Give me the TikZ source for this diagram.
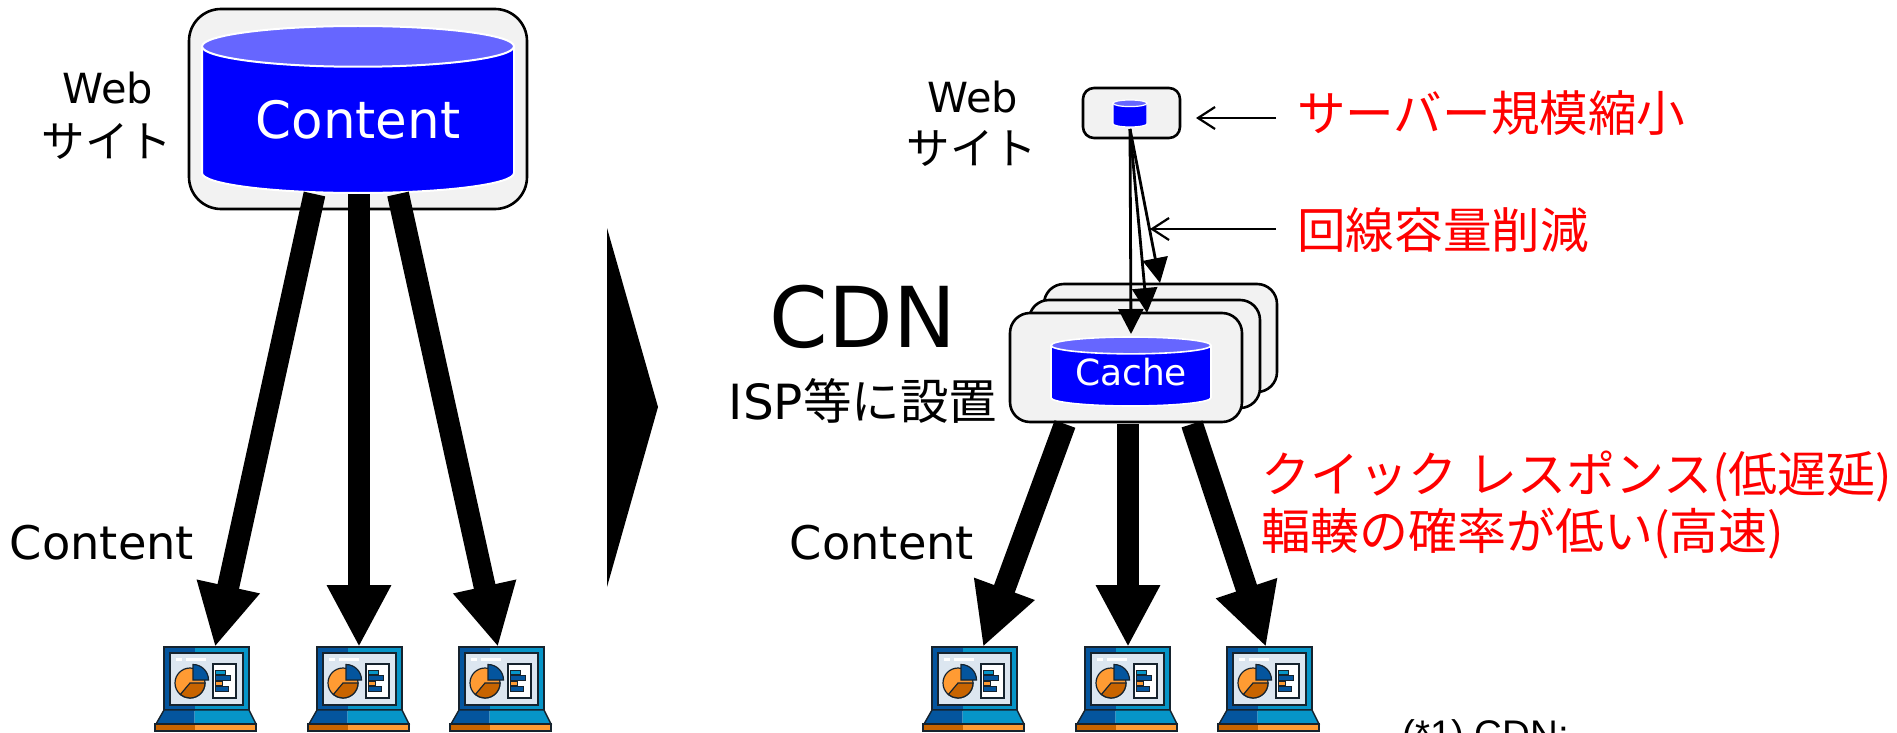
\documentclass[tikz,border=0pt]{standalone}
\usepackage{fontspec}
\setmainfont{DejaVu Sans}
\newfontfamily\jpf{Noto Sans CJK JP}
\newfontfamily\arf{Liberation Sans}
\usetikzlibrary{arrows.meta}
\definecolor{boxgray}{HTML}{F2F2F2}
\definecolor{cyltop}{HTML}{6666FF}
\definecolor{dblue}{HTML}{04559E}
\definecolor{lblue}{HTML}{0695C8}
\definecolor{scrn}{HTML}{DCE6F0}
\definecolor{dor}{HTML}{C86400}
\definecolor{lor}{HTML}{FF9B33}
\definecolor{ink}{HTML}{16232E}
\definecolor{redt}{HTML}{FF0000}
\newcommand{\fs}[1]{\fontsize{#1}{#1}\selectfont}
\tikzset{
  x=1pt,y=-1pt,
  wbox/.style={draw=black,fill=boxgray,rounded corners=#1,line width=2.6pt,inner sep=0pt,outer sep=0pt},
  bigarrow/.style={line width=22pt,-{Triangle[length=62pt,width=60pt]}},
  thinarrow/.style={line width=2.8pt,-{Triangle[length=25pt,width=25pt]}},
  note/.style={line width=2.2pt,-{Straight Barb[length=17pt,width=22pt]}},
  lbl/.style={inner sep=0pt,align=center,text=black},
  redlbl/.style={inner sep=0pt,anchor=west,text=redt},
  lap/.pic={
    \fill[dblue] (9,0) rectangle (39.5,63);
    \fill[lblue] (39.5,0) rectangle (94,63);
    \draw[ink,line width=1.4pt] (9,0) rectangle (94,63);
    \fill[dblue] (9,63) -- (39.5,63) -- (39.5,77) -- (1,77) -- cycle;
    \fill[lblue] (39.5,63) -- (94,63) -- (101,77) -- (39.5,77) -- cycle;
    \draw[ink,line width=1.4pt] (9,63) -- (94,63) -- (101,77) -- (1,77) -- cycle;
    \fill[dor] (0,77) rectangle (39.5,84);
    \fill[lor] (39.5,77) rectangle (101,84);
    \draw[ink,line width=1.4pt] (0,77) rectangle (101,84);
    \draw[ink,fill=scrn,line width=1.6pt] (15,6) rectangle (88,58);
    \fill[white] (21,10.5) rectangle (27,14);
    \fill[white] (31,10.5) rectangle (51,14);
    \draw[ink,fill=lor,line width=1.2pt] (35,36) circle (15);
    \draw[ink,fill=dor,line width=1.2pt] (35,36) -- (50,36) arc[start angle=0,end angle=130,radius=15] -- cycle;
    \draw[ink,fill=dblue,line width=1.2pt] (38,33) -- (38,17.5) arc[start angle=-90,end angle=0,radius=15.5] -- cycle;
    \draw[ink,fill=white,line width=1.2pt] (58,17) rectangle (81,51);
    \draw[ink,fill=lblue,line width=.8pt] (60,23) rectangle (70,27.5);
    \draw[ink,fill=dblue,line width=.8pt] (60,28) rectangle (75,33);
    \draw[ink,fill=lor,line width=.8pt] (60,34) rectangle (67.5,38);
    \draw[ink,fill=dblue,line width=.8pt] (60,39) rectangle (73,44);
  }
}
\newcommand{\cylinder}[5]{%
  \begin{scope}[shift={(#1,#2)},xscale=#3,yscale=#4]
    \draw[white,line width=#5,fill=blue] (0,.122) -- (0,.88) .. controls (0,.947) and (.224,1) .. (.5,1) .. controls (.776,1) and (1,.947) .. (1,.88) -- (1,.122) -- cycle;
    \draw[white,line width=#5,fill=cyltop] (.5,.122) ellipse [x radius=.5,y radius=.122];
  \end{scope}}
\begin{document}
\begin{tikzpicture}
\useasboundingbox (0,0) rectangle (1897,733);
\clip (0,0) rectangle (1897,733);
\fill[white] (0,0) rectangle (1897,733);
% left site
\node[wbox=32pt,minimum width=338pt,minimum height=200pt] (webL) at (358,109) {};
\cylinder{202}{26}{312}{167}{2pt}
\node[lbl,text=white,font=\fs{51.5}] (contentL) at (358,120) {Content};
% left laptops
\pic at (155,647) {lap};
\pic at (308,647) {lap};
\pic at (450,647) {lap};
\coordinate (sa) at (314.5,194); \coordinate (ta) at (215,647);
\coordinate (sb) at (359,194);   \coordinate (tb) at (359,647);
\coordinate (sc) at (398,194);   \coordinate (tc) at (498,647);
\draw[bigarrow] (sa) -- (ta);
\draw[bigarrow] (sb) -- (tb);
\draw[bigarrow] (sc) -- (tc);
\node[lbl,font=\fs{41.5}] (webLa) at (108,88) {Web};
\node[lbl,font=\jpf\fs{43.5}] (webLb) at (107,141) {サイト};
\node[lbl,font=\fs{46.3}] (cLbl) at (102,543) {Content};
% divider
\fill[black] (607,228) -- (658,407) -- (607,587) -- cycle;
% right site
\node[wbox=11pt,minimum width=97pt,minimum height=50pt] (webR) at (1131.5,113) {};
\cylinder{1113}{100}{34}{27}{1.2pt}
% cache stack
\node[wbox=20pt,minimum width=233pt,minimum height=108pt] (st3) at (1160.5,338) {};
\node[wbox=20pt,minimum width=231pt,minimum height=108pt] (st2) at (1144.5,354) {};
\node[wbox=20pt,minimum width=232pt,minimum height=109pt] (st1) at (1126,367.5) {};
\cylinder{1051}{337}{160}{69}{1.6pt}
\node[lbl,text=white,font=\fs{36}] (cacheT) at (1131,372) {Cache};
% thin arrows
\coordinate (ws) at (1130,129);
\coordinate (t1) at (1131,334);
\coordinate (t2) at (1147,313);
\coordinate (t3) at (1160,283);
\draw[thinarrow] (ws) -- (t1);
\draw[thinarrow] (ws) -- (t2);
\draw[thinarrow] (ws) -- (t3);
% notes
\coordinate (n1s) at (1276,118); \coordinate (n1e) at (1196,118);
\coordinate (n2s) at (1276,229); \coordinate (n2e) at (1150,229);
\draw[note] (n1s) -- (n1e);
\draw[note] (n2s) -- (n2e);
% right laptops
\pic at (923,647) {lap};
\pic at (1076,647) {lap};
\pic at (1218,647) {lap};
\coordinate (ra) at (1065,424); \coordinate (rat) at (983,647);
\coordinate (rb) at (1128,424); \coordinate (rbt) at (1128,647);
\coordinate (rc) at (1192,424); \coordinate (rct) at (1266,647);
\draw[bigarrow] (ra) -- (rat);
\draw[bigarrow] (rb) -- (rbt);
\draw[bigarrow] (rc) -- (rct);
% labels
\node[lbl,font=\fs{41.5}] (webRa) at (973,97) {Web};
\node[lbl,font=\jpf\fs{43.5}] (webRb) at (972,148) {サイト};
\node[lbl,font=\fs{84}] (cdn) at (863,317) {CDN};
\node[lbl,font=\fs{48.5}] (isp) at (863,401) {ISP{\jpf 等に設置}};
\node[lbl,font=\fs{46.3}] (cLblR) at (882,543) {Content};
\node[redlbl,font=\jpf\fs{48.6}] (r1) at (1297,113) {サーバー規模縮小};
\node[redlbl,font=\jpf\fs{48.6}] (r2) at (1297,230) {回線容量削減};
\node[redlbl,font=\jpf\fs{49}] (r3) at (1261,476) {クイック レスポンス({低遅延})};
\node[redlbl,font=\jpf\fs{49}] (r4) at (1261,534) {輻輳の確率が低い(高速)};
\node[inner sep=0pt,anchor=base west,font=\arf\fs{38.5}] (fn) at (1402,747) {(*1) CDN:};
\end{tikzpicture}
\end{document}
